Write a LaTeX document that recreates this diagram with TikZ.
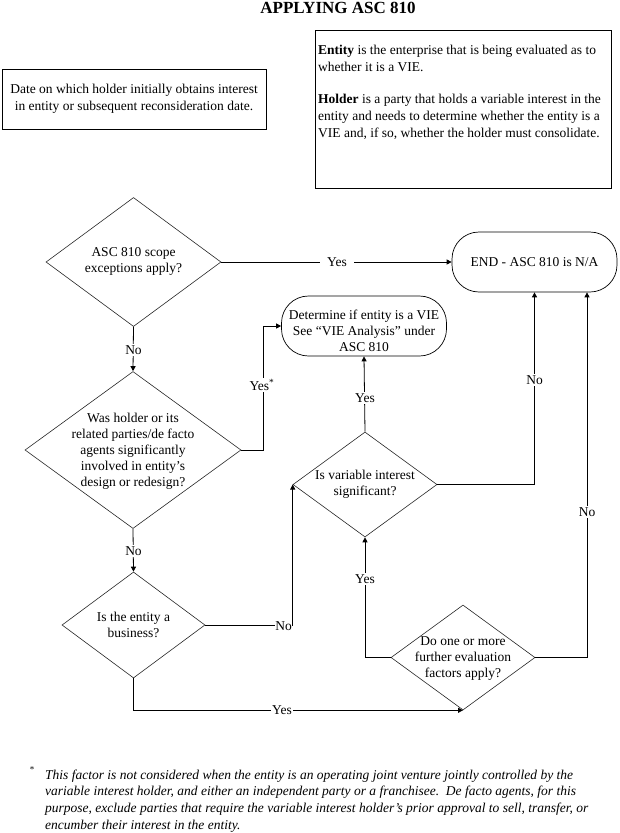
\documentclass[tikz,border=0pt]{standalone}
\usepackage{fontspec}
\setmainfont{Liberation Serif}
\usetikzlibrary{shapes.geometric,arrows.meta}
\begin{document}
\begin{tikzpicture}[x=1pt,y=-1pt,
  every node/.style={font=\fontsize{13.5}{16}\selectfont, inner sep=0pt},
  dia/.style={draw=black!85, diamond, line width=0.6pt, inner sep=0pt},
  txt/.style={align=center},
  term/.style={draw, rounded corners=27pt, line width=0.7pt, minimum width=165pt, minimum height=60pt, align=center},
  infobox/.style={draw, line width=0.9pt},
  lab/.style={fill=white, inner sep=1.5pt},
  arr/.style={line width=0.8pt, -{Triangle[length=5pt,width=5pt]}}
]
\useasboundingbox (0,0) rectangle (619,833);

\node[font=\fontsize{17}{20}\selectfont\bfseries] (title) at (338,8) {APPLYING ASC 810};

\node[infobox, minimum width=264pt, minimum height=60pt, align=center, font=\fontsize{13.5}{16.7}\selectfont] (date) at (134,99)
  {Date on which holder initially obtains interest\\in entity or subsequent reconsideration date.};

\node[infobox, minimum width=296pt, minimum height=158pt] (defs) at (463,109) {};
\node[anchor=north west, align=left, font=\fontsize{13.5}{16.8}\selectfont] (defstxt) at (318,45)
  {\textbf{Entity} is the enterprise that is being evaluated as to\\
   whether it is a VIE.\\[15.5pt]
   \textbf{Holder} is a party that holds a variable interest in the\\
   entity and needs to determine whether the entity is a\\
   VIE and, if so, whether the holder must consolidate.};

% decision diamonds
\node[dia, minimum width=175pt, minimum height=129pt] (d1) at (133.5,262) {};
\node[txt] (d1t) at (133.5,261.5) {ASC 810 scope\\exceptions apply?};

\node[dia, minimum width=216pt, minimum height=157pt] (d2) at (133,450) {};
\node[txt] (d2t) at (133,451) {Was holder or its\\related parties/de facto\\agents significantly\\involved in entity’s\\design or redesign?};

\node[dia, minimum width=143pt, minimum height=106pt] (d3) at (133.5,625) {};
\node[txt] (d3t) at (133.5,625) {Is the entity a\\business?};

\node[dia, minimum width=144pt, minimum height=105pt] (d4) at (365,484.5) {};
\node[txt] (d4t) at (365,484.5) {Is variable interest\\significant?};

\node[dia, minimum width=144pt, minimum height=105pt] (d5) at (463,657.5) {};
\node[txt] (d5t) at (463,658.5) {Do one or more\\further evaluation\\factors apply?};

% terminals
\node[term] (vie) at (364,326) {};
\node[txt] (viet) at (364,331) {Determine if entity is a VIE\\See “VIE Analysis” under\\ASC 810};
\node[term] (end) at (534.5,262) {END - ASC 810 is N/A};

% connectors
\draw[arr] (d1.east) -- (end.west);
\node[lab, inner xsep=7pt] (l1) at (337,262) {Yes};

\draw[arr] (d1.south) -- (d2.north);
\node[lab] (l2) at (133.5,350) {No};

\draw[arr] (d2.east) -- ++(22,0) |- (vie.west);
\node[lab] (l3) at (262,385) {Yes\textsuperscript{*}};

\draw[arr] (d2.south) -- (d3.north);
\node[lab] (l4) at (133.5,551) {No};

\draw[arr] (d3.east) -| (d4.west);
\node[lab, inner xsep=0.3pt] (l5) at (283.5,626) {No};

\draw[arr] (d3.south) |- (d5.south);
\node[lab] (l6) at (282,710) {Yes};

\draw[arr] (d4.north) -- (vie.south);
\node[lab] (l7) at (365,398) {Yes};

\draw[arr] (d4.east) -| (end.south);
\node[lab] (l8) at (534.5,380) {No};

\draw[arr] (d5.west) -| (d4.south);
\node[lab] (l9) at (365,579) {Yes};

\draw[arr] (d5.east) -| ([xshift=52.5pt]end.south);
\node[lab] (l10) at (587,512) {No};

% footnote
\node[font=\fontsize{9}{9}\selectfont] (fnstar) at (32,770) {*};
\node[anchor=north west, align=left, font=\fontsize{13.5}{16.6}\selectfont\itshape] (fn) at (45,769.5)
  {This factor is not considered when the entity is an operating joint venture jointly controlled by the\\
   variable interest holder, and either an independent party or a franchisee.\ \ De facto agents, for this\\
   purpose, exclude parties that require the variable interest holder’s prior approval to sell, transfer, or\\
   encumber their interest in the entity.};
\end{tikzpicture}
\end{document}
